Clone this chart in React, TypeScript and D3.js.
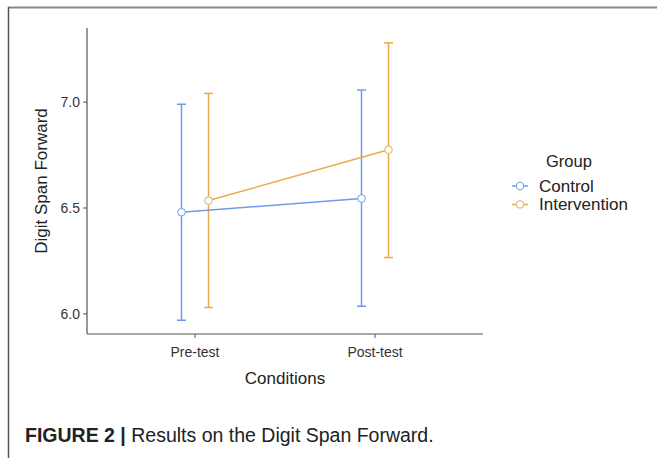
import React from "react";
import * as d3 from "d3";

// Condition categories along the x axis
const conditions = ["Pre-test", "Post-test"];
const groups = ["Control", "Intervention"];

// Means and error-bar limits per group, in condition order
const controlMean = [6.48, 6.545];
const controlLower = [5.97, 6.036];
const controlUpper = [6.99, 7.057];

const interventionMean = [6.535, 6.775];
const interventionLower = [6.03, 6.266];
const interventionUpper = [7.041, 7.28];

const yTicks = [6.0, 6.5, 7.0];

const groupColors = ["#6F9BEB", "#E6AC4C"];

const W = 657;
const H = 458;

export default function App() {
  const left = 87;
  const right = 483;
  const top = 28;
  const bottom = 334;

  const x = d3.scaleLinear().domain([0.4, 2.6]).range([left, right]);
  const y = d3.scaleLinear().domain([5.905, 7.35]).range([bottom, top]);
  const dodge = [-0.075, 0.075];

  const series = [
    { name: groups[0], mean: controlMean, lo: controlLower, hi: controlUpper },
    { name: groups[1], mean: interventionMean, lo: interventionLower, hi: interventionUpper },
  ];

  const line = d3
    .line<[number, number]>()
    .x((d) => d[0])
    .y((d) => d[1]);

  const font = "'Liberation Sans', Arial, Helvetica, sans-serif";

  return (
    <svg
      width={W}
      height={H}
      style={{ position: "absolute", left: 0, top: 0, background: "#fff" }}
      fontFamily={font}
    >
      {/* figure frame: top and left edges */}
      <line x1={8} x2={W} y1={7.5} y2={7.5} stroke="#8a8a8a" strokeWidth={2} />
      <line x1={8.5} x2={8.5} y1={7} y2={H} stroke="#555" strokeWidth={1.5} />

      {/* axes */}
      <line x1={left} x2={left} y1={top} y2={bottom} stroke="#555" strokeWidth={1.2} />
      <line x1={left} x2={right} y1={bottom} y2={bottom} stroke="#555" strokeWidth={1.2} />

      {yTicks.map((t) => (
        <g key={t}>
          <line x1={left - 4} x2={left} y1={y(t)} y2={y(t)} stroke="#555" strokeWidth={1} />
          <text x={left - 7} y={y(t)} dy="0.35em" textAnchor="end" fontSize={14} fill="#333">
            {t.toFixed(1)}
          </text>
        </g>
      ))}

      {conditions.map((c, i) => (
        <g key={c}>
          <line x1={x(i + 1)} x2={x(i + 1)} y1={bottom} y2={bottom + 4} stroke="#555" strokeWidth={1} />
          <text x={x(i + 1)} y={bottom + 23} textAnchor="middle" fontSize={14} fill="#333">
            {c}
          </text>
        </g>
      ))}

      <text x={(left + right) / 2} y={384} textAnchor="middle" fontSize={17} fill="#222">
        Conditions
      </text>
      <text
        transform={`translate(47, ${(top + bottom) / 2}) rotate(-90)`}
        textAnchor="middle"
        fontSize={17}
        fill="#222"
      >
        Digit Span Forward
      </text>

      {/* error bars */}
      {series.map((s, gi) =>
        s.mean.map((_, ci) => {
          const cx = x(ci + 1 + dodge[gi]);
          return (
            <g key={`${gi}-${ci}`} stroke={groupColors[gi]} strokeWidth={1.5}>
              <line x1={cx} x2={cx} y1={y(s.lo[ci])} y2={y(s.hi[ci])} />
              <line x1={cx - 4.5} x2={cx + 4.5} y1={y(s.lo[ci])} y2={y(s.lo[ci])} />
              <line x1={cx - 4.5} x2={cx + 4.5} y1={y(s.hi[ci])} y2={y(s.hi[ci])} />
            </g>
          );
        })
      )}

      {/* mean lines */}
      {series.map((s, gi) => (
        <path
          key={s.name}
          d={line(s.mean.map((m, ci) => [x(ci + 1 + dodge[gi]), y(m)]))!}
          fill="none"
          stroke={groupColors[gi]}
          strokeWidth={1.5}
        />
      ))}

      {/* mean points */}
      {series.map((s, gi) =>
        s.mean.map((m, ci) => (
          <circle
            key={`p${gi}-${ci}`}
            cx={x(ci + 1 + dodge[gi])}
            cy={y(m)}
            r={3.8}
            fill="#fff"
            stroke={groupColors[gi]}
            strokeWidth={1}
          />
        ))
      )}

      {/* legend */}
      <text x={546} y={166.5} fontSize={16.5} fill="#222">
        Group
      </text>
      {groups.map((g, i) => {
        const ly = 186 + i * 18.5;
        return (
          <g key={g}>
            <line x1={512} x2={528} y1={ly} y2={ly} stroke={groupColors[i]} strokeWidth={1.5} />
            <circle cx={520} cy={ly} r={3.8} fill="#fff" stroke={groupColors[i]} strokeWidth={1} />
            <text x={539} y={ly} dy="0.35em" fontSize={17} fill="#222">
              {g}
            </text>
          </g>
        );
      })}

      {/* caption */}
      <text x={25} y={441.5} fontSize={19.5} fill="#222">
        <tspan fontWeight="bold">FIGURE 2 | </tspan>
        <tspan>Results on the Digit Span Forward.</tspan>
      </text>
    </svg>
  );
}
